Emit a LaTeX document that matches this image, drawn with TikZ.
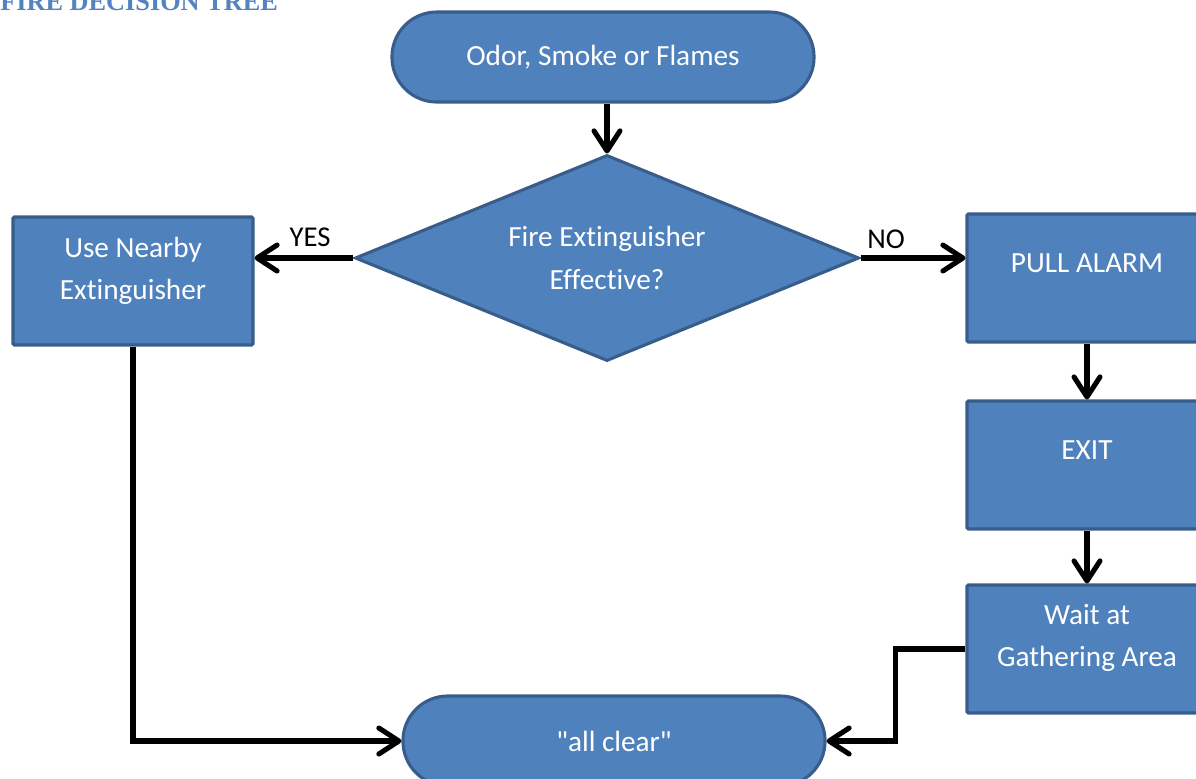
\documentclass[tikz,border=0pt]{standalone}
\usepackage{fontspec}
\setmainfont{Carlito}[Ligatures={NoCommon,TeXOff}]
\newfontfamily\titlefont{Liberation Serif}
\usetikzlibrary{arrows.meta, shapes.geometric}
\definecolor{boxblue}{RGB}{79,129,189}
\definecolor{boxedge}{RGB}{56,93,138}
\definecolor{titleblue}{RGB}{84,132,192}

\begin{document}
\begin{tikzpicture}[
        x=0.025cm, y=-0.025cm,
        term/.style={draw=boxedge, fill=boxblue, line width=2.2pt, rounded corners=1.12cm,
            minimum width=10.55cm, minimum height=2.25cm, text=white,
            font=\fontsize{20.8}{30}\selectfont},
        decision/.style={diamond, draw=boxedge, fill=boxblue, line width=2.2pt,
            minimum width=12.6cm, minimum height=5.15cm, aspect=2.4, inner sep=0pt,
            align=center, text=white, font=\fontsize{20.8}{30}\selectfont},
        stepbox/.style={draw=boxedge, fill=boxblue, line width=2.2pt, rounded corners=1pt,
            minimum width=6cm, minimum height=3.2cm},
        boxtext/.style={align=center, text=white, font=\fontsize{20.8}{30}\selectfont},
        answer/.style={font=\fontsize{20.4}{24}\selectfont},
        arrow/.style={-{Straight Barb[length=0.5cm, width=0.65cm, round]}, line width=3.6pt}
    ]
    \useasboundingbox (0,0) rectangle (1196,778);

    % ---- Title (cut at the top edge) ----
    \node[font=\titlefont\bfseries\fontsize{18.7}{22}\selectfont, text=titleblue,
        anchor=base west, inner sep=0pt] (title) at (0,10) {FIRE DECISION TREE};

    % ---- Start and decision ----
    \node[term] (start) at (603,57) {Odor, Smoke or Flames};
    \node[decision] (effective) at (607,258) {Fire Extinguisher\\Effective?};
    \draw[arrow] (start.south -| effective.north) -- (effective.north);

    % ---- YES branch ----
    \node[stepbox] (use) at (133,281) {};
    \node[boxtext] (usetxt) at (133,271) {Use Nearby\\Extinguisher};
    \draw[arrow] (effective.west) -- (effective.west -| use.east);
    \node[answer] (yes) at (310,237) {YES};

    % ---- NO branch ----
    \node[stepbox] (alarm) at (1087,278) {};
    \node[boxtext] (alarmtxt) at (1087,263) {PULL ALARM};
    \draw[arrow] (effective.east) -- (effective.east -| alarm.west);
    \node[answer] (no) at (886,239) {NO};

    \node[stepbox] (exit) at (1087,465) {};
    \node[boxtext] (exittxt) at (1087,450) {EXIT};
    \draw[arrow] (alarm.south) -- (exit.north);

    \node[stepbox] (wait) at (1087,649) {};
    \node[boxtext] (waittxt) at (1087,638) {Wait at\\Gathering Area};
    \draw[arrow] (exit.south) -- (wait.north);

    % ---- End ----
    \node[term] (clear) at (614,741) {"all clear"};
    \draw[arrow] (use.south) |- (clear.west);
    \draw[arrow] (wait.west) -- ++(-70,0) |- (clear.east);

\end{tikzpicture}
\end{document}
